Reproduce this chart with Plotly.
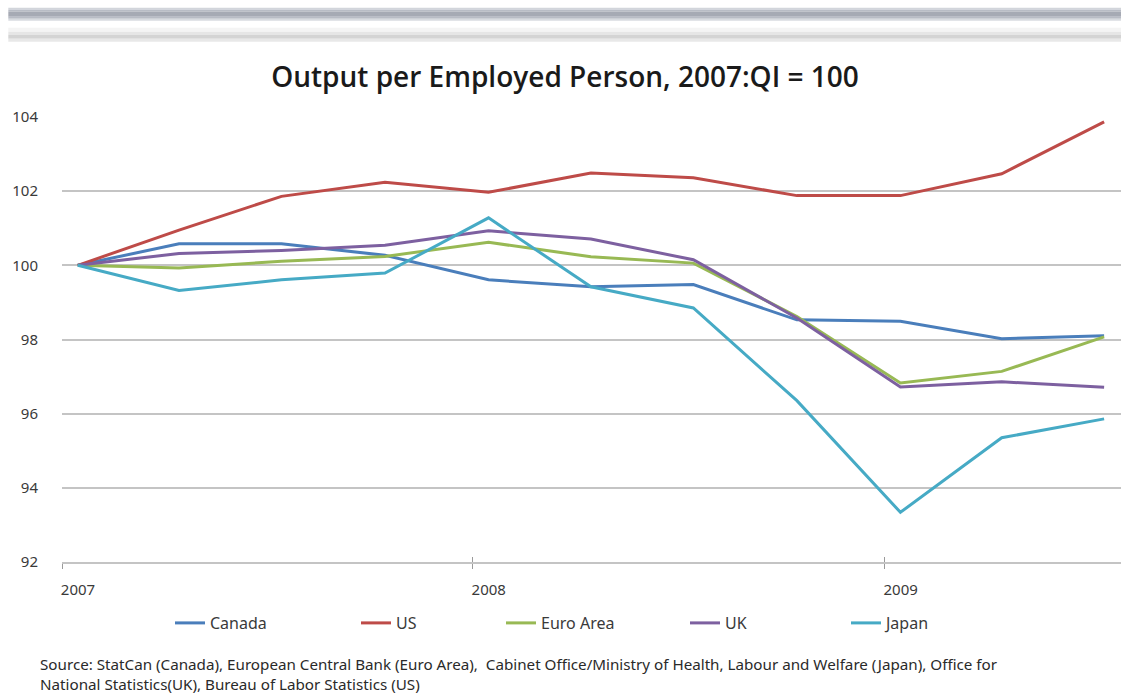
import plotly.graph_objects as go

W, H = 1121, 693

# ---- data ----
quarters = ["2007-01-15", "2007-04-15", "2007-07-15", "2007-10-15",
            "2008-01-15", "2008-04-15", "2008-07-15", "2008-10-15",
            "2009-01-15", "2009-04-15", "2009-07-15"]
canada = [100.0, 100.58, 100.58, 100.27, 99.61, 99.42, 99.48, 98.53, 98.49, 98.02, 98.10]
us = [100.0, 100.95, 101.86, 102.24, 101.97, 102.49, 102.36, 101.88, 101.88, 102.47, 103.87]
euro_area = [100.0, 99.93, 100.11, 100.24, 100.62, 100.23, 100.06, 98.62, 96.83, 97.14, 98.07]
uk = [100.0, 100.32, 100.40, 100.54, 100.93, 100.71, 100.15, 98.58, 96.72, 96.86, 96.71]
japan = [100.0, 99.32, 99.61, 99.79, 101.28, 99.42, 98.85, 96.35, 93.34, 95.35, 95.86]

series_names = ["Canada", "US", "Euro Area", "UK", "Japan"]
series_values = [canada, us, euro_area, uk, japan]
series_colors = ["#4a7ebb", "#be4b48", "#98b954", "#7d60a0", "#46aac5"]

year_ticks = ["2007-01-01", "2008-01-01", "2009-01-01"]
year_labels = ["2007", "2008", "2009"]
y_ticks = [92, 94, 96, 98, 100, 102, 104]

title_text = "Output per Employed Person, 2007:QI = 100"
source_text = ("Source: StatCan (Canada), European Central Bank (Euro Area),  Cabinet Office/Ministry of Health, "
               "Labour and Welfare (Japan), Office for<br>National Statistics(UK), Bureau of Labor Statistics (US)")

# ---- layout geometry (pixels) ----
L, R, T, B = 61.7, 1121, 117.3, 562.0
legend_x_px = [170, 356, 501, 685, 846]
legend_y_px = 623

def px_to_paper_y(py):
    return (B - py) / (B - T)

def px_to_paper_x(px):
    return (px - L) / (R - L)

fig = go.Figure()
for i, (name, vals, col) in enumerate(zip(series_names, series_values, series_colors)):
    fig.add_trace(go.Scatter(
        x=quarters, y=vals, mode="lines", name=name,
        line=dict(color=col, width=3),
        legend="legend" if i == 0 else f"legend{i+1}",
    ))

axis_font = dict(family="Noto Sans", size=15, color="#3a3a3a")
grid_col = "#c4c4c4"

layout = dict(
    width=W, height=H,
    paper_bgcolor="white", plot_bgcolor="white",
    margin=dict(l=L, r=W - R, t=T, b=H - B),
    title=dict(text=title_text, x=565 / W, xanchor="center", xref="container",
               y=1 - 77 / H, yanchor="middle", yref="container",
               font=dict(family="Open Sans", size=28, color="#1a1a1a", weight=600)),
    xaxis=dict(type="date", range=["2007-01-01", "2009-07-30"],
               tickvals=year_ticks, ticktext=year_labels,
               showgrid=False, zeroline=False,
               showline=True, linecolor=grid_col, linewidth=2,
               ticks="outside", ticklen=5, tickcolor="#9a9a9a", tickwidth=1,
               ticklabelshift=16, ticklabelstandoff=8,
               tickfont=axis_font),
    xaxis2=dict(type="date", range=["2007-01-01", "2009-07-30"], overlaying="x",
                matches="x", side="bottom", tickvals=year_ticks, ticktext=["", "", ""],
                showgrid=False, zeroline=False, showline=False,
                ticks="inside", ticklen=5, tickcolor="#9a9a9a", tickwidth=1,
                showticklabels=False),
    yaxis=dict(range=[92, 104], tickvals=y_ticks, showgrid=True,
               gridcolor=grid_col, gridwidth=2, zeroline=False, showline=False,
               ticks="", ticklabelstandoff=23, tickfont=axis_font),
    showlegend=True,
    shapes=[],
    annotations=[dict(text=source_text, xref="paper", yref="paper",
                      x=px_to_paper_x(38), y=px_to_paper_y(652),
                      xanchor="left", yanchor="top", align="left", showarrow=False,
                      font=dict(family="Noto Sans", size=15.2, color="#2a2a2a"))],
)

for i in range(len(series_names)):
    key = "legend" if i == 0 else f"legend{i+1}"
    layout[key] = dict(orientation="h", xref="container", yref="container",
                       x=legend_x_px[i] / W, y=1 - legend_y_px / H,
                       xanchor="left", yanchor="middle",
                       bgcolor="rgba(0,0,0,0)", borderwidth=0,
                       font=dict(family="Noto Sans", size=16, color="#3a3a3a"),
                       itemwidth=30, tracegroupgap=0)

# window chrome bands at top
bands = [
    (8, 10, "#d2d5db"), (10, 12, "#b8bcc5"), (12, 17, "#a6aab4"), (17, 19, "#b8bcc5"), (19, 21, "#d8dbe0"),
    (28, 32, "#f4f4f4"), (32, 35, "#e6e6e6"), (35, 39, "#d4d4d4"), (39, 42, "#e8e8e8"),
]
for y0, y1, col in bands:
    layout["shapes"].append(dict(type="rect", xref="paper", yref="paper",
                                 x0=px_to_paper_x(8), x1=px_to_paper_x(W),
                                 y0=px_to_paper_y(y1), y1=px_to_paper_y(y0),
                                 fillcolor=col, line=dict(width=0), layer="below"))

fig.update_layout(**layout)
# invisible helper trace on xaxis2 so its crossing tick marks render
fig.add_trace(go.Scatter(x=[quarters[0]], y=[100], xaxis="x2", mode="lines",
                         showlegend=False, hoverinfo="skip", line=dict(width=0)))

fig.write_html("out.html")
